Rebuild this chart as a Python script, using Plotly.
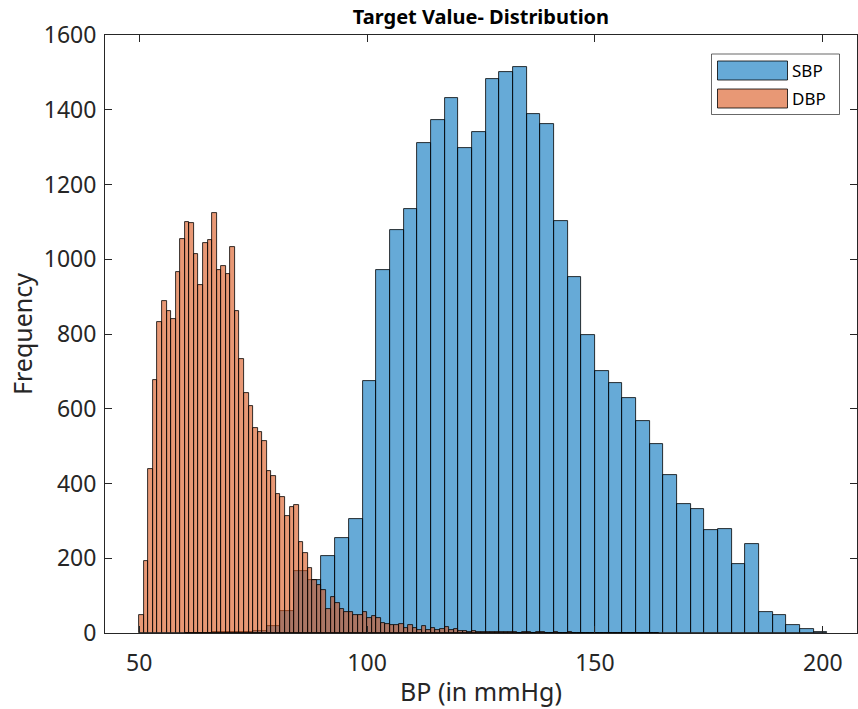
import plotly.graph_objects as go

# ---------------- data ----------------
sbp_start = 60
sbp_width = 3
sbp_counts = [1, 1, 2, 2, 3, 5, 18, 59, 165, 141,
              206, 253, 305, 675, 970, 1078, 1134, 1311, 1372, 1432,
              1299, 1341, 1481, 1500, 1514, 1389, 1362, 1103, 952, 797,
              701, 670, 628, 566, 507, 422, 344, 331, 275, 279,
              185, 238, 57, 47, 22, 11, 3]

dbp_start = 50
dbp_width = 1
dbp_counts = [49, 192, 438, 677, 831, 887, 861, 839, 966, 1055,
              1100, 1096, 1015, 931, 1043, 1052, 1124, 972, 983, 960,
              1033, 862, 733, 641, 608, 549, 539, 513, 433, 421,
              373, 364, 312, 338, 343, 243, 214, 174, 142, 129,
              115, 64, 96, 80, 64, 57, 57, 48, 48, 56,
              41, 46, 41, 26, 24, 22, 22, 23, 14, 21,
              13, 8, 19, 8, 14, 8, 10, 16, 8, 11,
              6, 5, 4, 6, 4, 4, 3, 4, 2, 3,
              2, 3, 2, 1, 3, 2, 1, 2, 2, 1,
              1, 2, 1, 1, 2, 1, 1, 1, 0, 1,
              1, 1, 0, 1, 1, 0, 1, 0, 1, 0,
              0, 1, 0, 1]

series_names = ["SBP", "DBP"]
x_ticks = [50, 100, 150, 200]
y_ticks = [0, 200, 400, 600, 800, 1000, 1200, 1400, 1600]

# ---------------- styles ----------------
BLUE = "rgba(0,114,189,0.6)"
ORANGE = "rgba(217,83,25,0.6)"
AX = "rgb(38,38,38)"
FONT = "Noto Sans"


def centers(start, width, n):
    return [start + width * (i + 0.5) for i in range(n)]


fig = go.Figure()
fig.add_trace(go.Bar(
    x=centers(sbp_start, sbp_width, len(sbp_counts)), y=sbp_counts,
    width=sbp_width, name=series_names[0],
    marker=dict(color=BLUE, line=dict(color="black", width=0.8)),
    showlegend=False))
fig.add_trace(go.Bar(
    x=centers(dbp_start, dbp_width, len(dbp_counts)), y=dbp_counts,
    width=dbp_width, name=series_names[1],
    marker=dict(color=ORANGE, line=dict(color="black", width=0.8)),
    showlegend=False))

# custom MATLAB-style legend
L, T, PW, PH = 105, 35, 752, 598


def px(x):
    return (x - L) / PW


def py(y):
    return (T + PH - y) / PH


shapes = [
    dict(type="rect", xref="paper", yref="paper", x0=px(711.5), x1=px(839.5),
         y0=py(114.5), y1=py(54), line=dict(color=AX, width=0.7), fillcolor="white"),
    dict(type="rect", xref="paper", yref="paper", x0=px(717.5), x1=px(787.5),
         y0=py(80), y1=py(61), line=dict(color="black", width=0.8), fillcolor=BLUE),
    dict(type="rect", xref="paper", yref="paper", x0=px(717.5), x1=px(787.5),
         y0=py(108), y1=py(89), line=dict(color="black", width=0.8), fillcolor=ORANGE),
]
annotations = [
    dict(xref="paper", yref="paper", x=px(790), y=py(70.5), text=series_names[0],
         showarrow=False, xanchor="left", yanchor="middle",
         font=dict(family=FONT, size=17, color="black")),
    dict(xref="paper", yref="paper", x=px(790), y=py(98.5), text=series_names[1],
         showarrow=False, xanchor="left", yanchor="middle",
         font=dict(family=FONT, size=17, color="black")),
]

fig.update_layout(
    width=858, height=709,
    margin=dict(l=L, r=858 - L - PW, t=T, b=709 - T - PH),
    barmode="overlay", bargap=0,
    plot_bgcolor="white", paper_bgcolor="white",
    font=dict(family=FONT, color=AX),
    title=dict(text="<b>Target Value- Distribution</b>", x=0.5 * (L + L + PW) / 858,
               xanchor="center", y=1 - 17 / 709, yanchor="middle",
               font=dict(family=FONT, size=20, color="black")),
    shapes=shapes, annotations=annotations,
    showlegend=False,
)
fig.update_xaxes(
    range=[42.5, 207.5], tickvals=x_ticks, ticks="inside", ticklen=7,
    tickcolor=AX, showline=True, linecolor=AX, linewidth=1, mirror="allticks",
    showgrid=False, zeroline=False, ticklabelstandoff=9,
    tickfont=dict(family=FONT, size=23, color=AX),
    title=dict(text="BP (in mmHg)", font=dict(family=FONT, size=25, color=AX), standoff=6),
)
fig.update_yaxes(
    range=[0, 1600], tickvals=y_ticks, ticks="inside", ticklen=7,
    tickcolor=AX, showline=True, linecolor=AX, linewidth=1, mirror="allticks",
    showgrid=False, zeroline=False, ticklabelstandoff=3,
    tickfont=dict(family=FONT, size=23, color=AX),
    title=dict(text="Frequency", font=dict(family=FONT, size=25, color=AX), standoff=4),
)

fig.write_html("out.html")
